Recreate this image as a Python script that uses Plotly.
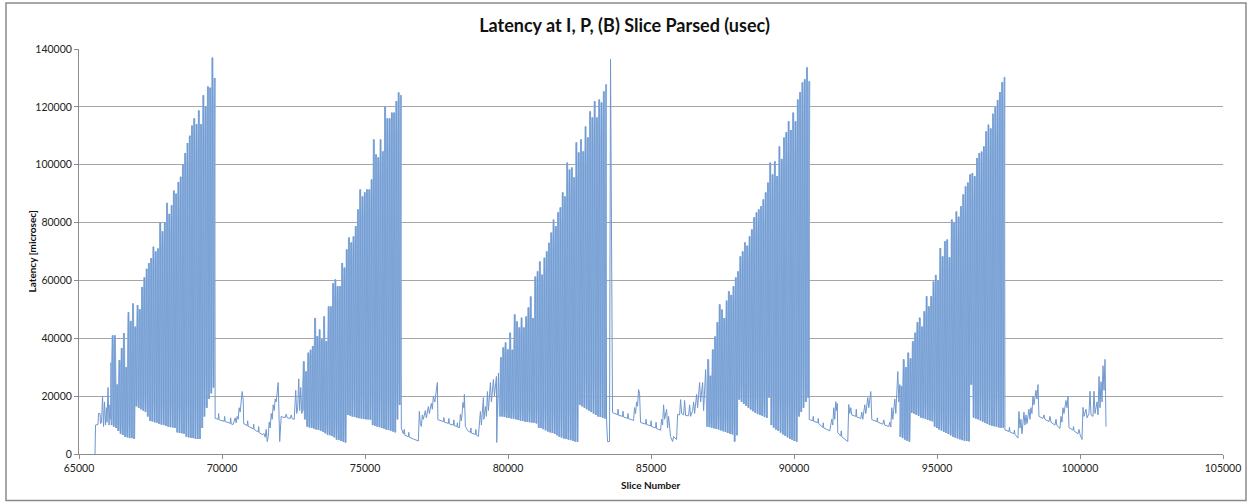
import numpy as np
import plotly.graph_objects as go

# ---------------- data (latency in thousands of microseconds) ----------------
# quiet segments: slice number / latency (k usec)
lead_x = [65560, 65578, 65665, 65683, 65735, 65753, 65788, 65823, 65840, 65858, 65893, 65910,
          65928, 65963, 65980, 66015, 66033, 66050, 66085, 66103, 66120, 66138]
lead_y = [0, 10, 10.2, 14, 14, 10.5, 11, 20, 15, 9.5, 18, 13, 10, 16, 11, 23, 16, 10, 17, 12, 31.6, 10]

q1_x = [69760, 69865, 69883, 69900, 70040, 70075, 70093, 70110, 70250, 70285, 70303, 70320, 70390,
        70460, 70495, 70530, 70565, 70600, 70635, 70670, 70705, 70740, 70758, 70880, 70898, 70915,
        71090, 71108, 71125, 71265, 71283, 71300, 71405, 71475, 71510, 71545, 71580, 71615, 71650,
        71685, 71720, 71755, 71790, 71825, 71860, 71895, 71930, 71965, 72018, 72070, 72105, 72210,
        72245, 72280, 72385, 72420, 72455, 72525, 72578, 72613, 72648, 72683, 72718, 72753, 72788]
q1_y = [12.3, 12, 14, 11.8, 11.4, 11.3, 13, 11.2, 10.8, 10.5, 12.5, 10.4, 10.2,
        12.5, 10.8, 13, 12, 16, 14.5, 20, 21.6, 19, 10.5, 9.8, 11.5, 9.6,
        8.7, 10.3, 8.5, 7.6, 9.5, 7.4, 6.7, 7, 5.8, 8.5, 4.3, 6, 11,
        9, 14, 12, 17, 15, 19, 18, 21, 24.7, 4.3, 13, 12.8, 12.6,
        13.8, 12.5, 12.3, 13.5, 12.2, 12, 22, 14, 16, 26, 15, 23, 14]

q2_x = [76253, 76270, 76340, 76375, 76393, 76515, 76533, 76550, 76690, 76865, 76900, 76935, 76970,
        77005, 77040, 77110, 77145, 77215, 77250, 77320, 77355, 77390, 77443, 77495, 77530, 77548,
        77740, 77758, 77775, 77915, 77933, 77950, 78090, 78108, 78125, 78213, 78230, 78248, 78300,
        78335, 78370, 78405, 78423, 78458, 78475, 78510, 78615, 78685, 78703, 78720, 78860, 78878,
        78895, 78965, 79035, 79070, 79140, 79158, 79210, 79245, 79280, 79315, 79385, 79420, 79490,
        79525, 79595, 79606, 79630, 79665, 79700]
q2_y = [20, 9, 7, 8.5, 6.5, 6, 7.5, 5.8, 5.2, 4.5, 14.7, 10.5, 9.5,
        13.5, 12, 15, 12.5, 16.4, 14, 17.5, 15.5, 19.9, 18, 23.4, 24.7, 11.9,
        11.2, 12.6, 11, 10.6, 12.3, 10.4, 10, 11.8, 9.8, 9.5, 10.8, 9.2, 9.1,
        13.7, 11.5, 15, 17.8, 16, 20.6, 9.5, 7.8, 7.5, 9, 7.2, 6.8, 8.5,
        6.5, 6.1, 14.7, 10, 19.5, 12, 16.4, 13, 21.6, 15, 24.7, 18, 25.8,
        20, 26.8, 4.0, 20, 28, 15]

q3_x = [83445, 83480, 83550, 83585, 83638, 83655, 83830, 83848, 83865, 84005, 84023, 84040, 84180,
        84198, 84215, 84355, 84390, 84425, 84460, 84495, 84530, 84565, 84600, 84635, 84810, 84828,
        84845, 84985, 85003, 85020, 85160, 85178, 85195, 85335, 85370, 85405, 85440, 85475, 85545,
        85580, 85615, 85685, 85755, 85790, 85895, 85930, 86000, 86035, 86070, 86140, 86175, 86210,
        86315, 86350, 86385, 86455, 86490, 86525, 86595, 86630, 86700, 86735, 86805, 86840, 86910,
        86945]
q3_y = [12, 4.3, 4.3, 136.4, 20, 14.3, 13.6, 15.5, 13.4, 13, 14.8, 12.8, 12.3,
        14, 12.2, 11.8, 11.6, 16, 14, 18, 16.5, 22.3, 21, 10.9, 10.3, 12,
        10.2, 9.7, 11.5, 9.5, 9, 11, 8.8, 8.2, 12, 10, 17, 12, 15.5,
        9, 13, 6, 4.3, 6, 5, 13.7, 13.5, 18.8, 14, 13.5, 18.5, 13.3,
        13.2, 17, 13, 15, 18, 14, 20.6, 16, 24.7, 18, 24.7, 15, 29.2,
        14]

q4_x = [90533, 90655, 90673, 90690, 90830, 90848, 90865, 91005, 91023, 91040, 91180, 91250, 91320,
        91355, 91390, 91425, 91460, 91495, 91513, 91530, 91635, 91653, 91670, 91810, 91880, 91915,
        91950, 91985, 92020, 92160, 92178, 92195, 92335, 92370, 92405, 92475, 92510, 92580, 92615,
        92685, 92720, 92895, 92913, 92930, 93105, 93140, 93175, 93315, 93350, 93385, 93420, 93455,
        93525, 93560, 93630, 93665, 93700]
q4_y = [11.9, 11.5, 13, 11.3, 10.8, 12.3, 10.5, 9.2, 10.8, 9, 8.3, 8, 12,
        10, 16, 12, 18.1, 15, 17.5, 7.4, 6.2, 8, 6, 5, 4.3, 17.1,
        14, 16, 13.5, 13, 15.5, 12.8, 12.3, 14.5, 12, 17, 14, 19.5, 16,
        21.6, 11.9, 11.2, 12.5, 11, 10.3, 11.8, 10, 9.5, 11, 9.3, 16, 12,
        19, 14, 28.5, 18, 24]

tail_x = [97375, 97515, 97533, 97550, 97690, 97708, 97725, 97830, 97865, 97900, 97935, 97970, 98040,
          98075, 98110, 98145, 98215, 98250, 98285, 98320, 98355, 98390, 98460, 98495, 98530, 98565,
          98705, 98740, 98775, 98915, 98950, 98985, 99125, 99160, 99195, 99300, 99335, 99370, 99405,
          99440, 99510, 99545, 99580, 99615, 99755, 99773, 99790, 99930, 99965, 100000, 100070,
          100105, 100140, 100210, 100245, 100315, 100350, 100385, 100455, 100490, 100525, 100595,
          100630, 100665, 100700, 100735, 100770, 100805, 100840, 100875, 100910]
tail_y = [8.3, 7.8, 9.2, 7.6, 7, 8.3, 6.8, 5.5, 14.7, 9, 12, 7, 14.5,
          10, 13.5, 10.5, 15.5, 12, 16, 14, 20, 17, 22, 19, 24, 13,
          12.3, 13.5, 12, 11.2, 13, 11, 10, 12, 9.8, 8.8, 13, 11, 16,
          14, 18.5, 16, 20, 9.1, 8.3, 9.5, 8, 7, 8.5, 6.8, 5,
          16.1, 13, 15.5, 12.5, 14, 21.7, 13.5, 13, 21.7, 14, 18,
          13.5, 26.8, 16, 25, 18, 30.5, 22, 32.7, 9.5]

# dense bursts: first/last spike slice number, spike tops and bottoms (k usec)
b1_span = (66155, 69725)
b1_peaks = [41, 41, 24, 32.5, 36.6, 41.8, 30, 49, 46, 52, 44, 51.5, 50, 57.7, 61, 64, 66, 67.7,
            71.6, 70, 71, 80, 77, 80, 86.8, 83, 86, 91, 90, 94, 95.8, 100, 104, 107.5, 110, 113.5,
            116, 114, 118.7, 114, 124, 120, 127, 126.6, 137, 130]
b1_troughs = [10, 9.5, 9, 8, 7, 6.6, 6, 5.8, 5.5, 5.5, 5.2, 16.5, 16, 15.5, 15, 14.5, 13, 11.5,
              11.3, 11, 10.8, 10.5, 10.2, 10, 9.8, 9.5, 9.3, 9.2, 9, 7.5, 7.3, 7.2, 7, 6, 5.8, 5.6,
              5.5, 5.3, 5.2, 5.2, 9, 13, 16, 19, 21, 23]

b2_span = (72840, 76235)
b2_peaks = [32, 28.5, 35, 36, 37.3, 47, 40.7, 43, 39.6, 47.5, 39, 51, 51, 59, 60.3, 58, 58, 66,
            64.4, 70.7, 74.8, 73.1, 75.2, 78.7, 84.5, 91.4, 89, 90.4, 91.4, 91.4, 94.9, 108.7,
            103.5, 102.5, 108.7, 104.6, 120, 116, 116, 118, 118, 122, 125, 124]
b2_troughs = [15, 12, 9.5, 9.2, 9, 8.8, 8.5, 8.3, 8, 7.6, 7.2, 6.7, 6.5, 6.2, 5.8, 5, 4.8, 4.5,
              4.2, 4.0, 13.5, 13.3, 13, 12.8, 12.6, 12.4, 12.3, 12.1, 12, 12, 11.8, 10, 9.8, 9.5,
              9.3, 9, 8.8, 8.5, 8.3, 8, 7.8, 7.5, 12, 17]

b3_span = (79735, 83410)
b3_peaks = [33.4, 36.8, 38.5, 36.1, 41.9, 36, 48.2, 45.8, 43.7, 47.1, 43.7, 47.5, 50.6, 54.4, 47,
            61.3, 63.1, 66.5, 62, 67.8, 70, 73, 76.5, 81, 78.7, 83.5, 85.2, 90.4, 89, 100.7, 98.3,
            99, 95.6, 107.7, 104.2, 108.7, 104.6, 113.2, 109.4, 118.4, 116.3, 121.9, 116.3, 122.5,
            121.5, 125.3, 127.7]
b3_troughs = [13, 13, 12.8, 12.6, 12.5, 12.3, 12.2, 12, 11.8, 11.6, 11.4, 11.2, 11.1, 11, 10.9,
              10.8, 10.6, 9.1, 9, 8.6, 8.2, 7.8, 7.5, 7.3, 7, 6.5, 6, 5.7, 5.4, 5.2, 5, 4.8, 4.5,
              4.3, 4.2, 17, 16.5, 16, 15.5, 15, 14.5, 14, 13.5, 13, 12.8, 12.5, 12.3]

b4_span = (86980, 90515)
b4_peaks = [32.7, 27, 36.1, 40.6, 45.5, 51.7, 49.9, 47, 53, 56.2, 55, 58, 61, 63.1, 68.3, 70,
            73.1, 72, 75.2, 77.6, 81.8, 83.5, 84.5, 85.6, 88, 90.4, 93.8, 100.7, 96.6, 101.1, 96,
            106.3, 102, 109.4, 111.2, 115, 112, 118, 115, 122.5, 125, 128.4, 129.5, 133.6, 128.8]
b4_troughs = [9.5, 9.3, 9.1, 8.9, 8.7, 8.5, 8.2, 7.9, 7.6, 7.3, 7, 6.8, 4.3, 6.5, 18.8, 18, 17.3,
              16.6, 16, 15.4, 14.8, 14.3, 13.8, 13.5, 13.2, 12.8, 12.5, 19.5, 10, 9.1, 8.5, 8, 7.4,
              6.8, 6.3, 5.8, 5.3, 5, 4.5, 4.3, 13, 14.5, 16, 18, 19.5]

b5_span = (93735, 97340)
b5_peaks = [23.4, 32.7, 30, 35, 33, 38.9, 41.9, 45.5, 47.1, 44, 49.3, 54.5, 51, 54.5, 59.6, 61.9,
            60, 71.2, 68.3, 73.5, 74.1, 68, 81, 80, 83.8, 82, 85.6, 89.7, 92.5, 93.8, 96.6, 97.1,
            96, 102.3, 104, 104.5, 106.3, 111.5, 113.8, 112.5, 117.6, 119.9, 122.3, 125.1, 128.5,
            130.2]
b5_troughs = [6, 5.5, 5, 4.6, 4.3, 14.3, 14, 13.6, 13.2, 12.6, 12.4, 12.1, 11.8, 11.6, 11.3, 9.5,
              9, 8.5, 8.1, 7.7, 7.3, 6.9, 6.5, 6, 5.7, 5.4, 5.1, 4.8, 4.6, 4.5, 4.4, 24, 12.6,
              12.3, 12, 11.6, 11.2, 10.8, 10.4, 10, 9.8, 9.6, 9.4, 9.2, 9.1, 9.1]

x_ticks = [65000, 70000, 75000, 80000, 85000, 90000, 95000, 100000, 105000]
y_ticks = [0, 20000, 40000, 60000, 80000, 100000, 120000, 140000]


def burst(span, peaks, troughs):
    n = len(peaks)
    pos = np.linspace(span[0], span[1], n)
    step = (span[1] - span[0]) / (n - 1)
    xs, ys = [], []
    for p, pk, tr in zip(pos, peaks, troughs):
        xs += [p - step / 4, p + step / 4]
        ys += [tr * 1000, pk * 1000]
    return xs, ys


def quiet(xs, ys):
    return list(xs), [v * 1000 for v in ys]


quiet_parts = [quiet(lead_x, lead_y), quiet(q1_x, q1_y), quiet(q2_x, q2_y),
               quiet(q3_x, q3_y), quiet(q4_x, q4_y), quiet(tail_x, tail_y)]
burst_parts = [burst(b1_span, b1_peaks, b1_troughs), burst(b2_span, b2_peaks, b2_troughs),
               burst(b3_span, b3_peaks, b3_troughs), burst(b4_span, b4_peaks, b4_troughs),
               burst(b5_span, b5_peaks, b5_troughs)]

# full connected series (thin)
X, Y = [], []
for i, (qx, qy) in enumerate(quiet_parts):
    X += qx
    Y += qy
    if i < len(burst_parts):
        X += burst_parts[i][0]
        Y += burst_parts[i][1]

fig = go.Figure()
fig.add_trace(go.Scatter(x=X, y=Y, mode="lines",
                         line=dict(color="#6F97CE", width=1), hoverinfo="skip",
                         showlegend=False))
# dense bursts drawn heavier so the spikes merge like the original
for bx, by in burst_parts:
    fig.add_trace(go.Scatter(x=bx, y=by, mode="lines",
                             line=dict(color="#93B5E0", width=2), hoverinfo="skip",
                             showlegend=False))
    fig.add_trace(go.Scatter(x=bx, y=by, mode="lines",
                             line=dict(color="#6590CB", width=0.5), hoverinfo="skip",
                             showlegend=False))

W, H = 1249, 503
ML, MR, MT, MB = 79, 26, 49, 48.5
pw, ph = W - ML - MR, H - MT - MB


def px2paper_x(px):
    return (px - ML) / pw


def py2paper_y(py):
    return (H - MB - py) / ph


fig.update_layout(
    width=W, height=H,
    margin=dict(l=ML, r=MR, t=MT, b=MB, autoexpand=False),
    paper_bgcolor="white", plot_bgcolor="white",
    hovermode=False,
    font=dict(family="Lato, Liberation Sans, sans-serif", color="#222222", size=11),
    title=dict(text="<b>Latency at I, P, (B) Slice Parsed (usec)</b>",
               x=0.5, xref="container", xanchor="center", y=1 - 26 / H, yanchor="middle",
               font=dict(size=18, color="#111111")),
    xaxis=dict(range=[65000, 105000], tickvals=x_ticks, ticktext=[str(v) for v in x_ticks],
               showgrid=False, zeroline=False, showline=True, linecolor="#8c8c8c", linewidth=1,
               ticks="outside", ticklen=4, tickcolor="#8c8c8c", automargin=False,
               tickfont=dict(size=10.5, color="#222222")),
    yaxis=dict(range=[0, 140000], tickvals=y_ticks, ticktext=[str(v) for v in y_ticks],
               showgrid=True, gridcolor="#a6a6a6", gridwidth=1, zeroline=False,
               showline=True, linecolor="#8c8c8c", linewidth=1, automargin=False,
               ticks="outside", ticklen=4, tickcolor="#8c8c8c",
               tickfont=dict(size=10.5, color="#222222")),
    annotations=[
        dict(text="<b>Slice Number</b>", xref="paper", yref="paper",
             x=0.5, y=py2paper_y(486), xanchor="center", yanchor="middle",
             showarrow=False, font=dict(size=10, color="#111111")),
        dict(text="<b>Latency [microsec]</b>", xref="paper", yref="paper",
             x=px2paper_x(31), y=0.5, xanchor="center", yanchor="middle", textangle=-90,
             showarrow=False, font=dict(size=10, color="#111111")),
    ],
    shapes=[dict(type="rect", xref="paper", yref="paper",
                 x0=px2paper_x(6), x1=px2paper_x(1246), y0=py2paper_y(501), y1=py2paper_y(3),
                 line=dict(color="#8a8a8a", width=1.5), fillcolor="rgba(0,0,0,0)", layer="below")],
)

fig.write_html("out.html", config={"displayModeBar": False},
               post_script="document.body.style.margin='0';document.body.style.padding='0';")
